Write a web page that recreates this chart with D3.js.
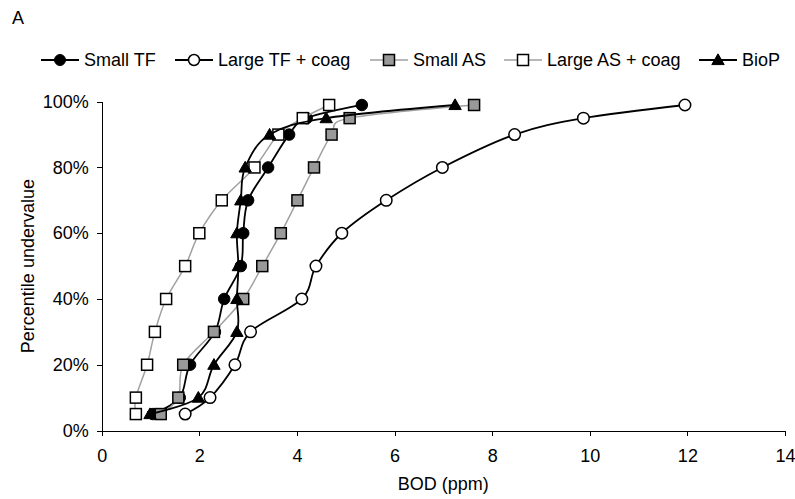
<!DOCTYPE html>
<html>
<head>
<meta charset="utf-8">
<script src="https://cdn.jsdelivr.net/npm/d3@7"></script>
<style>
  body { margin: 0; background: #fff; }
  svg { display: block; font-family: "Liberation Sans", Arial, sans-serif; }
  .axis text { font-size: 18px; fill: #000; }
  .axis path, .axis line { stroke: #000; stroke-width: 1; shape-rendering: crispEdges; }
</style>
</head>
<body>
<div id="visualization"></div>
<script>
/**
 * Data
 */
var percentiles = [5, 10, 20, 30, 40, 50, 60, 70, 80, 90, 95, 99];
var smallTF = [1.05, 1.6, 1.81, 2.32, 2.51, 2.85, 2.9, 3.0, 3.41, 3.84, 4.2, 5.33];
var largeTF = [1.71, 2.22, 2.73, 3.05, 4.1, 4.39, 4.92, 5.83, 6.98, 8.46, 9.87, 11.95];
var smallAS = [1.21, 1.57, 1.67, 2.3, 2.9, 3.29, 3.67, 4.01, 4.35, 4.71, 5.08, 7.63];
var largeAS = [0.7, 0.7, 0.93, 1.09, 1.32, 1.71, 2.0, 2.46, 3.13, 3.62, 4.12, 4.66];
var bioP = [0.99, 1.98, 2.3, 2.77, 2.77, 2.8, 2.77, 2.85, 2.94, 3.44, 4.6, 7.24];

var seriesNames = ["Small TF", "Large TF + coag", "Small AS", "Large AS + coag", "BioP"];
var xTicks = [0, 2, 4, 6, 8, 10, 12, 14];
var yTicks = [0, 20, 40, 60, 80, 100];

/**
 * Globals
 */
var width = 795;
var height = 499;
var plot = { l: 101.7, r: 785, t: 101.7, b: 430.5 };

// marker / line style per series
var styles = [
  { shape: "circle", fill: "#000", line: "#000", lw: 1.8 },
  { shape: "circle", fill: "#fff", line: "#000", lw: 1.8 },
  { shape: "square", fill: "#999", line: "#a0a0a0", lw: 1.5 },
  { shape: "square", fill: "#fff", line: "#a0a0a0", lw: 1.5 },
  { shape: "triangle", fill: "#000", line: "#000", lw: 1.8 }
];

var series = [smallTF, largeTF, smallAS, largeAS, bioP].map(function (vals, i) {
  return {
    name: seriesNames[i],
    style: styles[i],
    points: vals.map(function (v, j) { return { x: v, y: percentiles[j] }; })
  };
});

var scale = {
  x: d3.scaleLinear().domain([0, 14]).range([plot.l, plot.r]),
  y: d3.scaleLinear().domain([0, 100]).range([plot.b, plot.t])
};

var svg = d3.select("#visualization")
  .append("svg")
  .attr("width", width)
  .attr("height", height);

/**
 * Draws one marker into a selection
 */
function drawMarker(sel, style, size) {
  var sym;
  if (style.shape === "circle") {
    sel.append("circle")
      .attr("r", size / 2)
      .attr("fill", style.fill)
      .attr("stroke", "#000")
      .attr("stroke-width", style.fill === "#fff" ? 1.5 : 1);
  } else if (style.shape === "square") {
    sel.append("rect")
      .attr("x", -size / 2)
      .attr("y", -size / 2)
      .attr("width", size)
      .attr("height", size)
      .attr("fill", style.fill)
      .attr("stroke", "#000")
      .attr("stroke-width", 1.5);
  } else {
    sym = d3.symbol().type(d3.symbolTriangle).size(size * size * 0.55);
    sel.append("path")
      .attr("d", sym)
      .attr("transform", "translate(0,1)")
      .attr("fill", style.fill)
      .attr("stroke", "#000")
      .attr("stroke-width", 1);
  }
}

// panel letter
svg.append("text")
  .attr("x", 12)
  .attr("y", 24)
  .style("font-size", "18px")
  .text("A");

// axes
svg.append("g")
  .attr("class", "x axis")
  .attr("transform", "translate(0," + plot.b + ")")
  .call(d3.axisBottom(scale.x).tickValues(xTicks).tickSize(5).tickPadding(14).tickSizeOuter(0));

svg.append("g")
  .attr("class", "y axis")
  .attr("transform", "translate(" + plot.l + ",0)")
  .call(d3.axisLeft(scale.y).tickValues(yTicks).tickSize(5).tickPadding(8).tickSizeOuter(0)
    .tickFormat(function (d) { return d + "%"; }));

// axis labels
svg.append("text")
  .attr("x", (plot.l + plot.r) / 2)
  .attr("y", 490)
  .attr("text-anchor", "middle")
  .style("font-size", "18px")
  .text("BOD (ppm)");

svg.append("text")
  .attr("transform", "translate(34," + (plot.t + plot.b) / 2 + ") rotate(-90)")
  .attr("text-anchor", "middle")
  .style("font-size", "18px")
  .text("Percentile undervalue");

// series
var line = d3.line()
  .x(function (d) { return scale.x(d.x); })
  .y(function (d) { return scale.y(d.y); })
  .curve(d3.curveCardinal.tension(0));

series.forEach(function (s) {
  var g = svg.append("g").attr("class", "series");
  g.append("path")
    .attr("d", line(s.points))
    .attr("fill", "none")
    .attr("stroke", s.style.line)
    .attr("stroke-width", s.style.lw);
  g.selectAll(".pt")
    .data(s.points)
    .enter()
    .append("g")
    .attr("class", "pt")
    .attr("transform", function (d) {
      return "translate(" + scale.x(d.x) + "," + scale.y(d.y) + ")";
    })
    .each(function () { drawMarker(d3.select(this), s.style, s.style.shape === "circle" ? 11.5 : 11); });
});

// legend
var legendX = [41, 175, 370, 504, 699];
var legendY = 60;
series.forEach(function (s, i) {
  var g = svg.append("g").attr("transform", "translate(" + legendX[i] + "," + legendY + ")");
  g.append("line")
    .attr("x1", 0).attr("x2", 38)
    .attr("stroke", s.style.line)
    .attr("stroke-width", s.style.lw);
  var m = g.append("g").attr("transform", "translate(19,0)");
  drawMarker(m, s.style, 11);
  g.append("text")
    .attr("x", 43)
    .attr("dy", "0.35em")
    .style("font-size", "18px")
    .text(s.name);
});
</script>
</body>
</html>
